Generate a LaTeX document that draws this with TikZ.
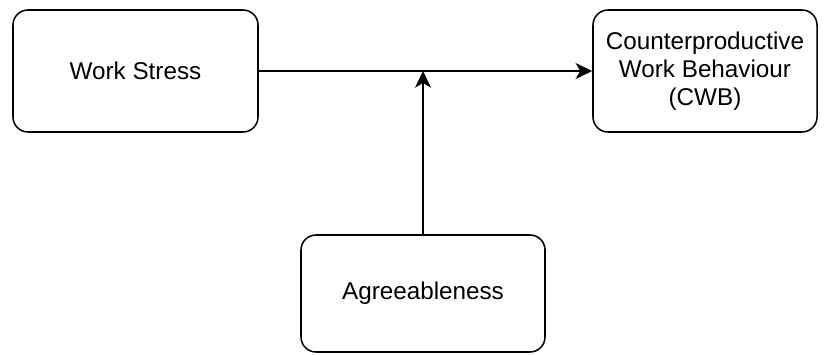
\documentclass[tikz,border=0pt]{standalone}
\usepackage{fontspec}
\setmainfont{Liberation Sans}
\usepackage{tikz}
\usetikzlibrary{arrows.meta,positioning,calc}

\begin{document}
\begin{tikzpicture}[
        varbox/.style={rectangle, draw=black, line width=1.3pt, rounded corners=0.45cm, align=center, font=\fontsize{20.7}{23.8}\selectfont},
        arrow/.style={-{Stealth[length=0.5cm, width=0.48cm, inset=0.14cm]}, line width=1.3pt}
    ]

    \useasboundingbox (0,0) rectangle (24.75,-10.62);

    % Predictor and outcome
    \node[varbox, minimum width=7.35cm, minimum height=3.66cm] (stress) at (4.065,-2.13) {Work Stress};
    \node[varbox, minimum width=6.72cm, minimum height=3.66cm] (cwb) at (21.15,-2.13) {Counterproductive\\Work Behaviour\\(CWB)};

    % Moderator
    \node[varbox, minimum width=7.32cm, minimum height=3.51cm] (agree) at (12.69,-8.805) {Agreeableness};

    \coordinate (meet) at (agree.north |- stress.east);

    % Arrows
    \draw[arrow] (stress.east) -- (cwb.west);
    \draw[arrow] (agree.north) -- (meet);

\end{tikzpicture}
\end{document}
